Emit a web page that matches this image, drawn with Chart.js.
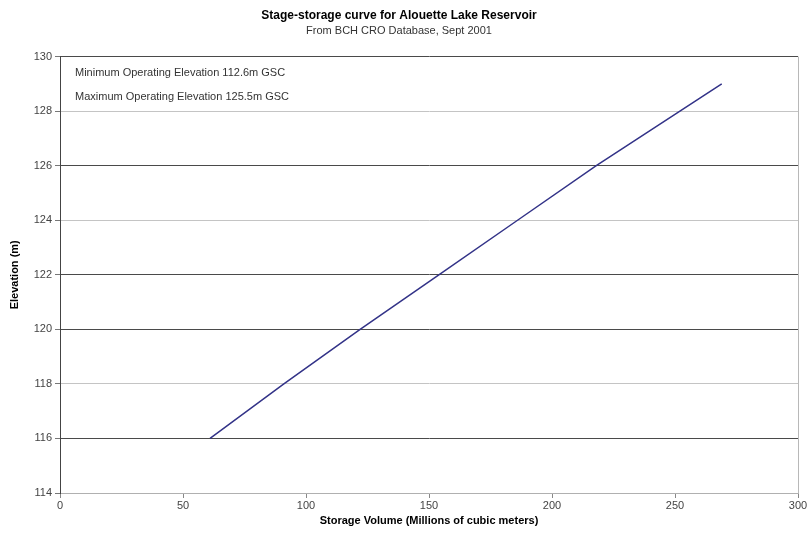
<!DOCTYPE html>
<html>
<head>
<meta charset="utf-8">
<script src="https://cdn.jsdelivr.net/npm/chart.js@4/dist/chart.umd.min.js"></script>
<style>
html,body{margin:0;padding:0;background:#fff;}
#wrap{width:810px;height:539px;position:relative;}
</style>
</head>
<body>
<div id="wrap"><canvas id="c" width="810" height="539"></canvas></div>
<script>
// Data
const elevation = [116, 118, 120, 122, 124, 126, 128, 129];
const storage   = [61, 91, 122, 154, 186, 218, 252, 269];
const yTicks = [114, 116, 118, 120, 122, 124, 126, 128, 130];
const xTicks = [0, 50, 100, 150, 200, 250, 300];
const darkGridValues = [130, 126, 122, 120, 116];
const notes = ['Minimum Operating Elevation 112.6m GSC', 'Maximum Operating Elevation 125.5m GSC'];
const titleText = 'Stage-storage curve for Alouette Lake Reservoir';
const subtitleText = 'From BCH CRO Database, Sept 2001';
const xTitle = 'Storage Volume (Millions of cubic meters)';
const yTitle = 'Elevation (m)';

const points = storage.map((s, i) => ({x: s, y: elevation[i]}));
const FONT = "'Liberation Sans', Arial, sans-serif";

const notesPlugin = {
  id: 'notes',
  afterDatasetsDraw(chart) {
    const {ctx, chartArea} = chart;
    ctx.save();
    ctx.font = '11px ' + FONT;
    ctx.fillStyle = '#333';
    ctx.textBaseline = 'middle';
    ctx.textAlign = 'left';
    notes.forEach((t, i) => ctx.fillText(t, chartArea.left + 15, chartArea.top + 16 + i * 24));
    ctx.restore();
  }
};

new Chart(document.getElementById('c'), {
  type: 'scatter',
  data: {
    datasets: [{
      data: points,
      showLine: true,
      borderColor: '#333388',
      borderWidth: 1.5,
      pointRadius: 0,
      pointHoverRadius: 0,
      tension: 0
    }]
  },
  options: {
    responsive: false,
    animation: false,
    events: [],
    layout: {padding: {left: 0, right: 12, top: 0, bottom: 0}},
    plugins: {
      legend: {display: false},
      tooltip: {enabled: false},
      title: {
        display: true, text: titleText,
        font: {family: FONT, size: 12, weight: 'bold'}, color: '#000',
        padding: {top: 8, bottom: 1}
      },
      subtitle: {
        display: true, text: subtitleText,
        font: {family: FONT, size: 11}, color: '#333',
        padding: {top: 1, bottom: 19}
      }
    },
    scales: {
      x: {
        type: 'linear', min: 0, max: 300,
        afterBuildTicks: s => { s.ticks = xTicks.map(v => ({value: v})); },
        afterFit: s => { s.height = 46; },
        ticks: {font: {family: FONT, size: 11}, color: '#444', padding: 1, maxRotation: 0},
        grid: {
          drawOnChartArea: true,
          color: c => (c.tick && c.tick.value === 300) ? '#b8b8b8' : 'rgba(0,0,0,0)',
          tickColor: '#888', tickLength: 5
        },
        border: {display: true, color: '#b0b0b0', width: 1},
        title: {display: true, text: xTitle, font: {family: FONT, size: 11, weight: 'bold'}, color: '#000', padding: {top: 0, bottom: 11}}
      },
      y: {
        type: 'linear', min: 114, max: 130,
        afterBuildTicks: s => { s.ticks = yTicks.map(v => ({value: v})); },
        afterFit: s => { s.width = 60; },
        ticks: {font: {family: FONT, size: 11}, color: '#444', padding: 3},
        grid: {
          color: c => (c.tick && darkGridValues.includes(c.tick.value)) ? '#4a4a4a' : '#c4c4c4',
          tickColor: '#777', tickLength: 5, lineWidth: 1
        },
        border: {display: true, color: '#444', width: 1},
        title: {display: true, text: yTitle, font: {family: FONT, size: 11, weight: 'bold'}, color: '#000', padding: {top: 8, bottom: 0}}
      }
    }
  },
  plugins: [notesPlugin]
});
</script>
</body>
</html>
